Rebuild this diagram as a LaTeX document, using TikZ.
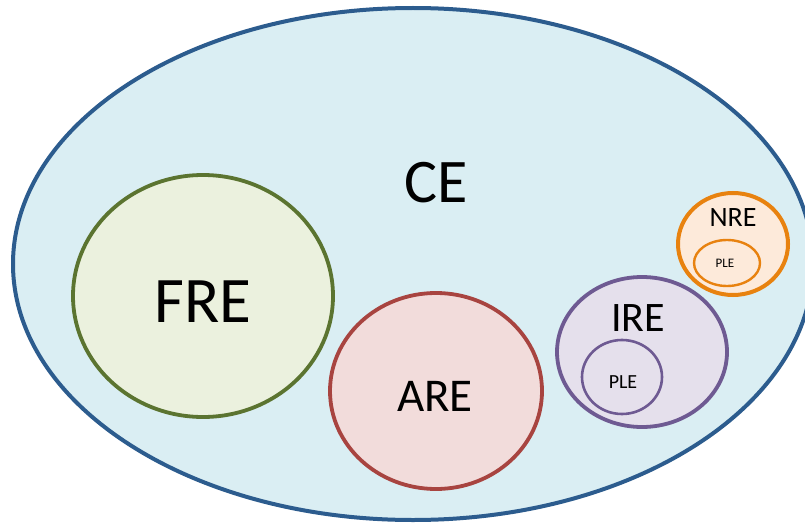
\documentclass[tikz,border=0pt]{standalone}
\usepackage{fontspec}
\setmainfont{Carlito}
\usetikzlibrary{shapes.geometric}
\definecolor{ceFill}{HTML}{DAEEF3}
\definecolor{ceLine}{HTML}{2C5C8E}
\definecolor{freFill}{HTML}{EBF1DE}
\definecolor{freLine}{HTML}{5B7430}
\definecolor{areFill}{HTML}{F2DCDB}
\definecolor{areLine}{HTML}{A84440}
\definecolor{ireFill}{HTML}{E5E0EC}
\definecolor{ireLine}{HTML}{6E5A92}
\definecolor{nreFill}{HTML}{FDEADA}
\definecolor{nreLine}{HTML}{E8820F}
\tikzset{
  blob/.style={ellipse, inner sep=0pt, outer sep=0pt},
  lbl/.style={inner sep=0pt, text=black},
}
\newcommand{\fsz}[1]{\fontsize{#1}{#1}\selectfont}
\begin{document}
\begin{tikzpicture}[x=1pt,y=-1pt]
\useasboundingbox (0,0) rectangle (805,524);
\clip (0,0) rectangle (805,524);
% outer CE
\node[blob, draw=ceLine, fill=ceFill, line width=4pt, minimum width=800pt, minimum height=512pt] (ce) at (413,264) {};
\node[lbl, font=\fsz{62}] (celbl) at (436,183) {CE};
% FRE
\node[blob, draw=freLine, fill=freFill, line width=3.8pt, minimum width=260pt, minimum height=242pt] (fre) at (203,296) {};
\node[lbl, font=\fsz{65}] (frelbl) at (203,302) {FRE};
% ARE
\node[blob, draw=areLine, fill=areFill, line width=3.8pt, minimum width=212pt, minimum height=196pt] (are) at (436,391) {};
\node[lbl, font=\fsz{47}] (arelbl) at (435,396) {ARE};
% IRE
\node[blob, draw=ireLine, fill=ireFill, line width=3.8pt, minimum width=170pt, minimum height=150pt] (ire) at (642,352) {};
\node[lbl, font=\fsz{42}] (irelbl) at (638,318) {IRE};
\node[blob, draw=ireLine, fill=ireFill, line width=2.6pt, minimum width=80pt, minimum height=74pt] (iple) at (622,377) {};
\node[lbl, font=\fsz{20}] (iplelbl) at (623,382) {PLE};
% NRE
\node[blob, draw=nreLine, fill=nreFill, line width=4pt, minimum width=110pt, minimum height=102pt] (nre) at (733,244) {};
\node[lbl, font=\fsz{28}] (nrelbl) at (733,218) {NRE};
\node[blob, draw=nreLine, fill=nreFill, line width=2.4pt, minimum width=66pt, minimum height=46pt] (nple) at (727,263) {};
\node[lbl, font=\fsz{13}] (nplelbl) at (725,263) {PLE};
\end{tikzpicture}
\end{document}
